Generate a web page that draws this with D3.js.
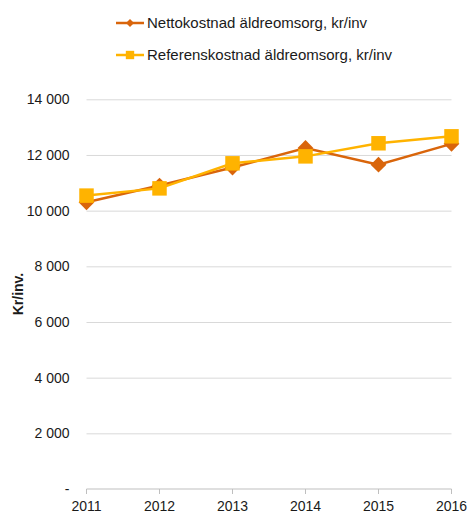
<!DOCTYPE html>
<meta charset="utf-8">
<style>
	body { margin: 0; background: #fff; }
	svg text { font-family: "Liberation Sans", Arial, sans-serif; fill: #1a1a1a; }
	.grid line { stroke: #d9d9d9; }
	.grid path { display: none; }
</style>
<script src="https://d3js.org/d3.v7.min.js"></script>
<svg id="chart" width="470" height="513"></svg>
<script>

	var years = ["2011", "2012", "2013", "2014", "2015", "2016"];
	var netto = [10300, 10900, 11550, 12250, 11650, 12400];
	var referens = [10540, 10800, 11700, 11950, 12420, 12670];
	var seriesNames = ["Nettokostnad äldreomsorg, kr/inv", "Referenskostnad äldreomsorg, kr/inv"];
	var yTicks = [0, 2000, 4000, 6000, 8000, 10000, 12000, 14000];

	var colors = ["#D9650B", "#FFB300"];
	// diamonds are squares turned 45 degrees
	var rot = [45, 0];

	var svg = d3.select("#chart");

	var x = d3.scalePoint().domain(years).range([86.5, 451.5]);
	var y = d3.scaleLinear().domain([0, 14000]).range([489, 99.3]);

	function fmt(d) {
		if (d === 0) return "-";
		return d3.format(",")(d).replace(/,/g, " ");
	}

	// gridlines
	svg.append("g")
		.attr("class", "grid")
		.attr("transform", "translate(86.5,0)")
		.call(d3.axisLeft(y).tickValues(yTicks.slice(1)).tickSize(-365).tickFormat(""));

	// y labels
	svg.append("g").selectAll("text")
		.data(yTicks).enter().append("text")
		.attr("x", 69.5)
		.attr("y", function(d) { return y(d); })
		.attr("dy", "0.35em")
		.attr("text-anchor", "end")
		.style("font-size", "14px")
		.text(fmt);

	// x axis
	var xa = svg.append("g").attr("transform", "translate(0,489)");
	xa.append("line").attr("x1", 86.5).attr("x2", 451.5).attr("stroke", "#bfbfbf");
	xa.selectAll("line.tick").data(years).enter().append("line")
		.attr("class", "tick")
		.attr("x1", function(d) { return x(d); })
		.attr("x2", function(d) { return x(d); })
		.attr("y1", 0).attr("y2", 5)
		.attr("stroke", "#bfbfbf");
	xa.selectAll("text").data(years).enter().append("text")
		.attr("x", function(d) { return x(d); })
		.attr("y", 22)
		.attr("text-anchor", "middle")
		.style("font-size", "14px")
		.text(function(d) { return d; });

	// y title
	svg.append("text")
		.attr("transform", "translate(23,294) rotate(-90)")
		.attr("text-anchor", "middle")
		.style("font-size", "14px")
		.style("font-weight", "bold")
		.text("Kr/inv.");

	var line = d3.line()
		.x(function(d, i) { return x(years[i]); })
		.y(function(d) { return y(d); });

	var all = [netto, referens];
	var sizes = [125, 210];

	all.forEach(function(vals, k) {
		svg.append("path")
			.datum(vals)
			.attr("fill", "none")
			.attr("stroke", colors[k])
			.attr("stroke-width", 2.5)
			.attr("d", line);
		svg.append("g").selectAll("path")
			.data(vals).enter().append("path")
			.attr("transform", function(d, i) { return "translate(" + x(years[i]) + "," + y(d) + ") rotate(" + rot[k] + ")"; })
			.attr("d", d3.symbol().type(d3.symbolSquare).size(sizes[k]))
			.attr("fill", colors[k]);
	});

	// legend
	var leg = svg.append("g").selectAll("g")
		.data(seriesNames).enter().append("g")
		.attr("transform", function(d, i) { return "translate(116," + (23 + i * 32) + ")"; });
	leg.append("line")
		.attr("x1", 0).attr("x2", 28)
		.attr("stroke", function(d, i) { return colors[i]; })
		.attr("stroke-width", 2.5);
	leg.append("path")
		.attr("transform", function(d, i) { return "translate(14,0) rotate(" + rot[i] + ")"; })
		.attr("d", function(d, i) { return d3.symbol().type(d3.symbolSquare).size(i ? 70 : 32)(); })
		.attr("fill", function(d, i) { return colors[i]; });
	leg.append("text")
		.attr("x", 31)
		.attr("dy", "0.35em")
		.style("font-size", "15px")
		.text(function(d) { return d; });

</script>
